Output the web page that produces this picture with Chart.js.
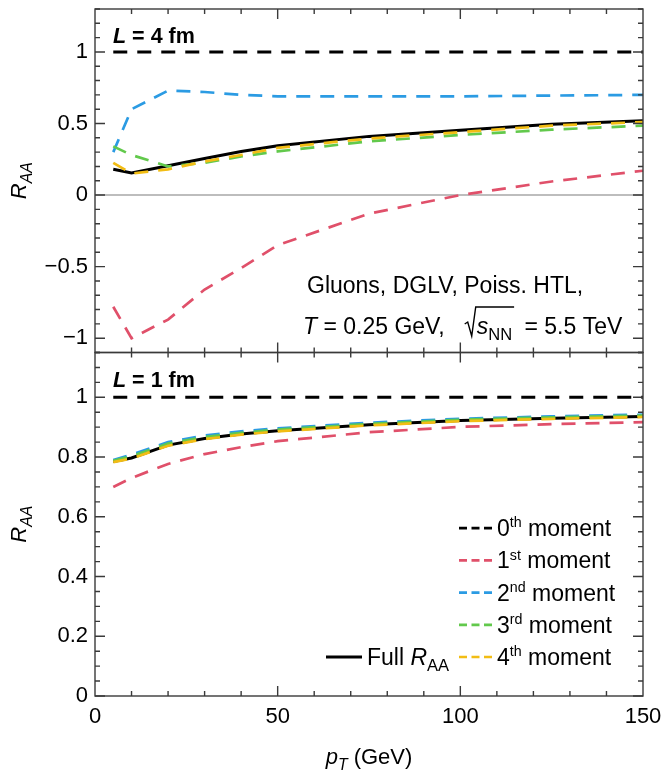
<!DOCTYPE html>
<html>
<head>
<meta charset="utf-8">
<script src="https://cdn.jsdelivr.net/npm/chart.js@4.4.1/dist/chart.umd.min.js"></script>
<style>
  html, body { margin: 0; padding: 0; background: #fff; }
  #wrap { width: 665px; height: 770px; }
</style>
</head>
<body>
<div id="wrap"><canvas id="grafico"></canvas></div>
<script>
// transverse momentum grid (GeV)
const pT = [5, 10, 20, 30, 40, 50, 75, 100, 125, 150]

// L = 4 fm panel
const full4 = [0.18, 0.155, 0.205, 0.255, 0.305, 0.345, 0.41, 0.452, 0.495, 0.52]
const mom0L4 = [1, 1, 1, 1, 1, 1, 1, 1, 1, 1]
const mom1L4 = [-0.78, -1.0, -0.87, -0.66, -0.51, -0.35, -0.13, 0.0, 0.095, 0.17]
const mom2L4 = [0.30, 0.60, 0.73, 0.72, 0.70, 0.69, 0.69, 0.69, 0.695, 0.70]
const mom3L4 = [0.34, 0.28, 0.20, 0.225, 0.27, 0.305, 0.375, 0.42, 0.457, 0.485]
const mom4L4 = [0.225, 0.15, 0.18, 0.235, 0.28, 0.33, 0.395, 0.44, 0.485, 0.51]

// L = 1 fm panel
const full1 = [0.785, 0.797, 0.84, 0.862, 0.877, 0.888, 0.908, 0.922, 0.93, 0.936]
const mom0L1 = [1, 1, 1, 1, 1, 1, 1, 1, 1, 1]
const mom1L1 = [0.70, 0.73, 0.777, 0.81, 0.833, 0.853, 0.883, 0.901, 0.91, 0.917]
const mom2L1 = [0.79, 0.808, 0.85, 0.872, 0.886, 0.896, 0.915, 0.928, 0.936, 0.942]
const mom3L1 = [0.787, 0.803, 0.845, 0.867, 0.881, 0.892, 0.911, 0.925, 0.933, 0.939]
const mom4L1 = [0.783, 0.795, 0.838, 0.86, 0.875, 0.886, 0.906, 0.92, 0.928, 0.934]

// axis ticks
const xTicks = [0, 50, 100, 150]
const yTicksL4 = [-1, -0.5, 0, 0.5, 1]
const yTicksL1 = [0, 0.2, 0.4, 0.6, 0.8, 1]

// legend text
const ordinals = ['0', '1', '2', '3', '4']
const suffixes = ['th', 'st', 'nd', 'rd', 'th']
const colores = ['#000000', '#e0506a', '#2b9be3', '#62c94c', '#f2bd14']

const FONT = "'Liberation Sans', Arial, Helvetica, sans-serif"
const DASH = [14, 10]

Chart.defaults.font.family = FONT
Chart.defaults.font.size = 22
Chart.defaults.color = '#000'

const puntos = ys => pT.map((x, i) => ({ x, y: ys[i] }))

function panel (eje, full, momentos) {
  const sets = momentos.map((m, k) => ({
    label: ordinals[k] + suffixes[k] + ' moment',
    data: puntos(m),
    yAxisID: eje,
    borderColor: colores[k],
    borderWidth: k === 0 ? 3 : 2.7,
    borderDash: DASH,
    order: 5 - k
  }))
  sets.push({
    label: 'Full RAA',
    data: puntos(full),
    yAxisID: eje,
    borderColor: '#000',
    borderWidth: 3,
    order: 6
  })
  return sets
}

// draws a run of text pieces: { t, it, b, sub, sup }
function rico (ctx, runs, x, y, size, align) {
  let ancho = 0
  const partes = runs.map(r => {
    const fs = r.sub ? size * 0.72 : r.sup ? size * 0.62 : size
    const font = `${r.it ? 'italic ' : ''}${r.b ? 'bold ' : ''}${fs}px ${FONT}`
    ctx.font = font
    const w = ctx.measureText(r.t).width
    ancho += w
    return { ...r, font, w }
  })
  let cx = align === 'right' ? x - ancho : align === 'center' ? x - ancho / 2 : x
  ctx.textAlign = 'left'
  ctx.textBaseline = 'alphabetic'
  ctx.fillStyle = '#000'
  partes.forEach(p => {
    ctx.font = p.font
    const dy = p.sub ? size * 0.28 : p.sup ? -size * 0.38 : 0
    ctx.fillText(p.t, cx, y + dy)
    cx += p.w
  })
  return ancho
}

// frame with inward ticks on every side of each panel
const marcoPlugin = {
  id: 'marco',
  afterDraw (chart) {
    const ctx = chart.ctx
    const xs = chart.scales.x
    const area = chart.chartArea
    const paneles = [
      { s: chart.scales.yT, i0: -11, i1: 13, paso: 0.1, cada: 5 },
      { s: chart.scales.yB, i0: 0, i1: 23, paso: 0.05, cada: 4 }
    ]
    ctx.save()
    ctx.strokeStyle = '#3a3a3a'
    ctx.lineWidth = 1.4
    paneles.forEach(p => {
      const t = p.s.top
      const b = p.s.bottom
      ctx.beginPath()
      for (let i = p.i0; i <= p.i1; i++) {
        const y = p.s.getPixelForValue(i * p.paso)
        const len = i % p.cada === 0 ? 10 : 5
        ctx.moveTo(area.left, y); ctx.lineTo(area.left + len, y)
        ctx.moveTo(area.right, y); ctx.lineTo(area.right - len, y)
      }
      for (let v = 10; v < 150; v += 10) {
        const x = xs.getPixelForValue(v)
        const len = v % 50 === 0 ? 10 : 5
        ctx.moveTo(x, b); ctx.lineTo(x, b - len)
        ctx.moveTo(x, t); ctx.lineTo(x, t + len)
      }
      ctx.stroke()
      ctx.strokeRect(area.left, t, area.right - area.left, b - t)
    })

    // y titles
    paneles.forEach(p => {
      ctx.save()
      ctx.translate(26, (p.s.top + p.s.bottom) / 2)
      ctx.rotate(-Math.PI / 2)
      rico(ctx, [{ t: 'R', it: true }, { t: 'AA', it: true, sub: true }], 0, 0, 22, 'center')
      ctx.restore()
    })
    // x title
    rico(ctx, [{ t: 'p', it: true }, { t: 'T', it: true, sub: true }, { t: ' (GeV)' }], (area.left + area.right) / 2, 764, 22, 'center')

    // panel labels
    const yT = chart.scales.yT
    const yB = chart.scales.yB
    rico(ctx, [{ t: 'L', it: true, b: true }, { t: ' = 4 fm', b: true }], area.left + 18, yT.top + 34, 21.5)
    rico(ctx, [{ t: 'L', it: true, b: true }, { t: ' = 1 fm', b: true }], area.left + 18, yB.top + 34, 21.5)

    // annotation
    rico(ctx, [{ t: 'Gluons, DGLV, Poiss. HTL,' }], 307, 293, 23)
    let x = 303
    const base = 334
    x += rico(ctx, [{ t: 'T', it: true }, { t: ' = 0.25 GeV,' }], x, base, 23)
    x += 20
    const w = rico(ctx, [{ t: 's', it: true }, { t: 'NN', sub: true }], x + 12, base, 23)
    ctx.lineWidth = 1.4
    ctx.strokeStyle = '#000'
    ctx.beginPath()
    ctx.moveTo(x, base - 10)
    ctx.lineTo(x + 3, base - 12)
    ctx.lineTo(x + 7, base + 2)
    ctx.lineTo(x + 11, base - 27)
    ctx.lineTo(x + 14 + w, base - 27)
    ctx.stroke()
    x += 18 + w
    rico(ctx, [{ t: ' = 5.5 TeV' }], x, base, 23)
    ctx.restore()
  }
}

// legend in the lower right of the L = 1 fm panel
const leyendaPlugin = {
  id: 'leyenda',
  afterDraw (chart) {
    const ctx = chart.ctx
    const area = chart.chartArea
    const yB = chart.scales.yB
    const fila = 32.2
    const y0 = yB.bottom - 39 - 4 * fila
    ctx.save()
    ordinals.forEach((o, k) => {
      const y = y0 + k * fila
      ctx.strokeStyle = colores[k]
      ctx.lineWidth = 2.7
      ctx.setLineDash([8, 4.5])
      ctx.beginPath()
      ctx.moveTo(area.right - 184, y)
      ctx.lineTo(area.right - 151, y)
      ctx.stroke()
      ctx.setLineDash([])
      rico(ctx, [{ t: o }, { t: suffixes[k], sup: true }, { t: ' moment' }], area.right - 146, y + 8, 23)
    })
    const y = y0 + 4 * fila
    ctx.strokeStyle = '#000'
    ctx.lineWidth = 3
    ctx.beginPath()
    ctx.moveTo(area.right - 317, y)
    ctx.lineTo(area.right - 281, y)
    ctx.stroke()
    rico(ctx, [{ t: 'Full ' }, { t: 'R', it: true }, { t: 'AA', sub: true }], area.right - 276, y + 8, 23)
    ctx.restore()
  }
}

const formato = v => (v < 0 ? '\u2212' + Math.abs(v) : String(v))
// keep the plot area where the frame sits, whatever the labels overhang
const sinRelleno = s => { s.paddingTop = 0; s.paddingBottom = 0; s.paddingLeft = 0; s.paddingRight = 0 }

const ctx = document.getElementById('grafico').getContext('2d')
const grafico = new Chart(ctx, {
  type: 'line',
  data: {
    datasets: [
      ...panel('yT', full4, [mom0L4, mom1L4, mom2L4, mom3L4, mom4L4]),
      ...panel('yB', full1, [mom0L1, mom1L1, mom2L1, mom3L1, mom4L1])
    ]
  },
  options: {
    responsive: true,
    maintainAspectRatio: false,
    animation: false,
    events: [],
    layout: { padding: { top: 9, right: 22, bottom: 0, left: 0 } },
    elements: {
      point: { radius: 0 },
      line: { tension: 0, fill: false }
    },
    plugins: {
      legend: { display: false },
      tooltip: { enabled: false }
    },
    scales: {
      x: {
        type: 'linear',
        min: 0,
        max: 150,
        afterBuildTicks: s => { s.ticks = xTicks.map(v => ({ value: v })) },
        afterFit: s => { s.height = 74; sinRelleno(s) },
        grid: { display: false, drawTicks: false },
        border: { display: false },
        ticks: { padding: 8, autoSkip: false, maxRotation: 0 }
      },
      yB: {
        type: 'linear',
        position: 'left',
        stack: 'paneles',
        stackWeight: 1,
        min: 0,
        max: 1.15,
        afterBuildTicks: s => { s.ticks = yTicksL1.map(v => ({ value: v })) },
        afterFit: s => { s.width = 95; sinRelleno(s) },
        grid: { display: false, drawTicks: false },
        border: { display: false },
        ticks: { padding: 7, autoSkip: false, callback: formato }
      },
      yT: {
        type: 'linear',
        position: 'left',
        stack: 'paneles',
        stackWeight: 1,
        min: -1.1,
        max: 1.3,
        afterBuildTicks: s => { s.ticks = yTicksL4.map(v => ({ value: v })) },
        afterFit: s => { s.width = 95; sinRelleno(s) },
        grid: {
          drawTicks: false,
          lineWidth: 2,
          color: c => (c.tick && c.tick.value === 0 ? '#bdbdbd' : 'rgba(0,0,0,0)')
        },
        border: { display: false },
        ticks: { padding: 7, autoSkip: false, callback: formato }
      }
    }
  },
  plugins: [marcoPlugin, leyendaPlugin]
})
</script>
</body>
</html>
